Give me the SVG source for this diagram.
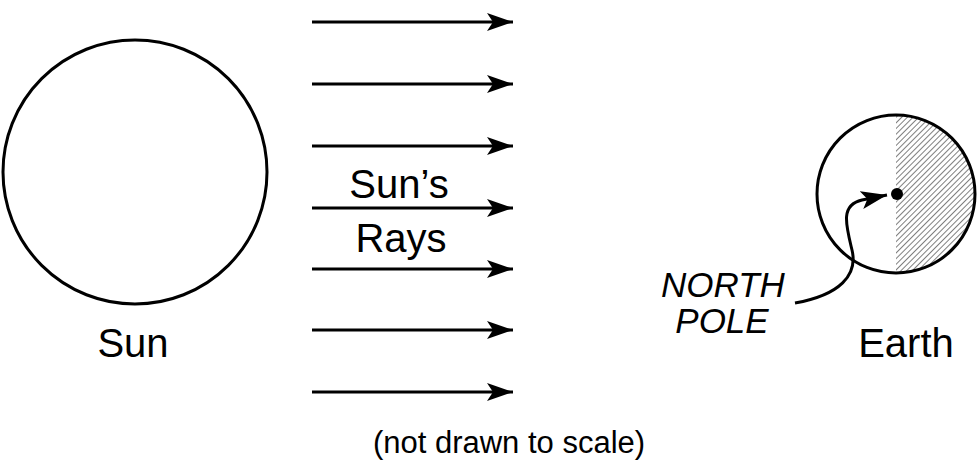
<svg xmlns="http://www.w3.org/2000/svg" width="979" height="472" viewBox="0 0 979 472">
<style>
.l{stroke:#000;stroke-width:3;fill:none}
.t{font-family:"Liberation Sans",Arial,sans-serif;fill:#000}
</style>
<defs>
<marker id="ah" markerUnits="userSpaceOnUse" markerWidth="28" markerHeight="20" refX="26" refY="10" orient="auto"><path d="M0,1 L26,10 L0,19 L6,10 Z" fill="#000"/></marker>
<pattern id="hatch" patternUnits="userSpaceOnUse" width="4" height="4" patternTransform="rotate(45)"><line x1="0" y1="0" x2="0" y2="4" stroke="#000" stroke-width="1"/></pattern>
<clipPath id="ec"><circle cx="896" cy="194" r="79"/></clipPath>
</defs>
<rect width="979" height="472" fill="#fff"/>
<g id="sun"><circle class="l" cx="135" cy="172" r="132"/><text class="t" x="133" y="357" font-size="40" text-anchor="middle">Sun</text></g>
<g id="earth">
<rect x="896" y="110" width="90" height="170" fill="url(#hatch)" clip-path="url(#ec)"/>
<circle class="l" cx="896" cy="194" r="79"/>
<circle cx="897" cy="194" r="6" fill="#000"/>
<text class="t" x="906" y="357" font-size="40" text-anchor="middle">Earth</text>
</g>
<g id="connectors">
<line class="l" x1="312" y1="22" x2="513" y2="22" marker-end="url(#ah)"/>
<line class="l" x1="312" y1="84" x2="513" y2="84" marker-end="url(#ah)"/>
<line class="l" x1="312" y1="146" x2="513" y2="146" marker-end="url(#ah)"/>
<line class="l" x1="312" y1="208" x2="513" y2="208" marker-end="url(#ah)"/>
<line class="l" x1="312" y1="269" x2="513" y2="269" marker-end="url(#ah)"/>
<line class="l" x1="312" y1="330" x2="513" y2="330" marker-end="url(#ah)"/>
<line class="l" x1="312" y1="392" x2="513" y2="392" marker-end="url(#ah)"/>
<path class="l" d="M795,303 C840,295 858,275 852,250 C846,225 840,205 862,200 L887,195" marker-end="url(#ah)"/>
</g>
<g id="labels">
<text class="t" x="399" y="198" font-size="40" text-anchor="middle">Sun’s</text>
<text class="t" x="401" y="252" font-size="40" text-anchor="middle">Rays</text>
<text class="t" x="723" y="297" font-size="35" font-style="italic" text-anchor="middle">NORTH</text>
<text class="t" x="722" y="333" font-size="35" font-style="italic" text-anchor="middle">POLE</text>
<text class="t" x="509" y="453" font-size="31" text-anchor="middle">(not drawn to scale)</text>
</g>
</svg>
